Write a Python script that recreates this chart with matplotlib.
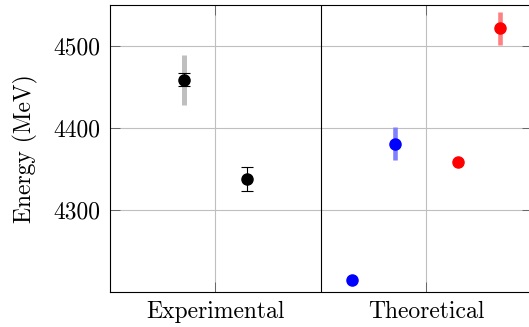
import matplotlib
matplotlib.use("Agg")
import matplotlib.pyplot as plt

plt.rcParams["font.family"] = "cmr10"
plt.rcParams["mathtext.fontset"] = "cm"
plt.rcParams["axes.unicode_minus"] = False

categories = ["Experimental", "Theoretical"]
cat_pos = [1, 3]

# experimental points: value, stat error (black bars), syst error (gray band)
exp_x = [0.7, 1.3]
exp_y = [4459, 4338]
exp_stat = [8, 15]
exp_syst = [30, 0]

# theoretical points
blue_x = [2.3, 2.7]
blue_y = [4215, 4381]
blue_err = [0, 20]
red_x = [3.3, 3.7]
red_y = [4359, 4522]
red_err = [0, 20]

yticks = [4300, 4400, 4500]

fig = plt.figure(figsize=(5.29, 3.27), dpi=100)
ax = fig.add_axes([110 / 529, 34.7 / 327, 421.5 / 529, 287 / 327])

# bands first
for x, y, e in zip(exp_x, exp_y, exp_syst):
    if e:
        ax.plot([x, x], [y - e, y + e], color="#bfbfbf", lw=3.6, solid_capstyle="butt", zorder=2)
for x, y, e in zip(blue_x, blue_y, blue_err):
    if e:
        ax.plot([x, x], [y - e, y + e], color="#8080ff", lw=3.3, solid_capstyle="butt", zorder=2)
for x, y, e in zip(red_x, red_y, red_err):
    if e:
        ax.plot([x, x], [y - e, y + e], color="#ff8080", lw=3.3, solid_capstyle="butt", zorder=2)

ax.errorbar(exp_x, exp_y, yerr=exp_stat, fmt="o", color="black", ms=8,
            elinewidth=0.8, capsize=4, capthick=0.8, zorder=3)
ax.plot(blue_x, blue_y, "o", color="blue", ms=8, zorder=3)
ax.plot(red_x, red_y, "o", color="red", ms=8, zorder=3)

ax.axvline(2, color="black", lw=0.8, zorder=2.5)

ax.set_xlim(0, 4)
ax.set_ylim(4200, 4550)
ax.set_xticks(cat_pos)
ax.set_xticklabels(categories)
ax.set_yticks(yticks)
ax.grid(True, color="#bfbfbf", lw=0.8, zorder=0)
ax.set_axisbelow(True)
ax.tick_params(direction="in", length=7, width=0.6, color="0.35",
               top=True, right=True, labelsize=17)
ax.tick_params(axis="y", pad=7)
ax.tick_params(axis="x", pad=6)
for s in ax.spines.values():
    s.set_linewidth(0.8)

ax.set_ylabel("Energy (MeV)", fontsize=17, labelpad=11)

fig.savefig("out.png", dpi=100)
